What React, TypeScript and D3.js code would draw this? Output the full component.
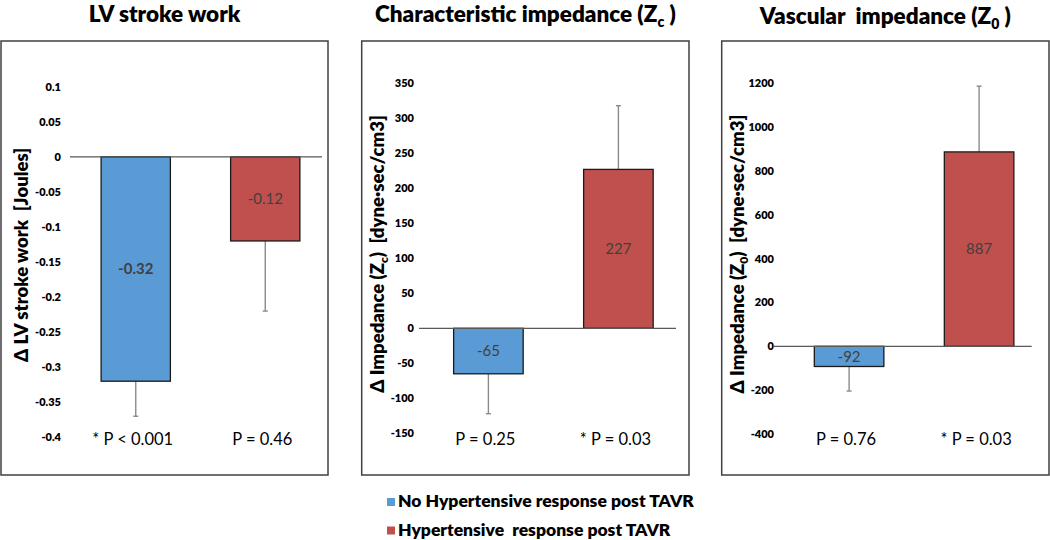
import React from "react";
import * as d3 from "d3";

// ---------- data ----------
const groups = ["No Hypertensive response post TAVR", "Hypertensive  response post TAVR"];
const groupColors = ["#5B9BD5", "#C0504D"];

const lvValues = [-0.32, -0.12];
const lvErrors = [0.05, 0.1];
const lvPLabels = ["* P < 0.001", "P = 0.46"];
const lvTicks = [0.1, 0.05, 0, -0.05, -0.1, -0.15, -0.2, -0.25, -0.3, -0.35, -0.4];
const lvTickLabels = ["0.1", "0.05", "0", "-0.05", "-0.1", "-0.15", "-0.2", "-0.25", "-0.3", "-0.35", "-0.4"];
const lvValueLabels = ["-0.32", "-0.12"];

const zcValues = [-65, 227];
const zcErrors = [57, 91];
const zcPLabels = ["P = 0.25", "* P = 0.03"];
const zcTicks = [350, 300, 250, 200, 150, 100, 50, 0, -50, -100, -150];
const zcValueLabels = ["-65", "227"];

const z0Values = [-92, 887];
const z0Errors = [112, 300];
const z0PLabels = ["P = 0.76", "* P = 0.03"];
const z0Ticks = [1200, 1000, 800, 600, 400, 200, 0, -200, -400];
const z0ValueLabels = ["-92", "887"];

// ---------- layout ----------
const FONT = "Lato, 'Open Sans', sans-serif";
const HEAVY = 800;

type Panel = {
  title: [string, string, string];
  yTitle: [string, string, string];
  values: number[];
  errors: number[];
  pLabels: string[];
  ticks: number[];
  tickLabels: string[];
  valueLabels: string[];
  boldIdx: number[];
  domain: [number, number];
  yRange: [number, number];
  box: [number, number];
  zeroX: [number, number];
  band: [number, number];
  tickX: number;
  yTitleX: number;
  yTitleY: number;
  titleY: number;
};

const panels: Panel[] = [
  {
    title: ["LV stroke work", "", ""],
    yTitle: ["Δ LV stroke work  [Joules]", "", ""],
    values: lvValues,
    errors: lvErrors,
    pLabels: lvPLabels,
    ticks: lvTicks,
    tickLabels: lvTickLabels,
    valueLabels: lvValueLabels,
    boldIdx: [0],
    domain: [-0.4, 0.1],
    yRange: [437.3, 86.7],
    box: [1, 328],
    zeroX: [70, 322],
    band: [71, 330],
    tickX: 61,
    yTitleX: 28,
    yTitleY: 255,
    titleY: 22,
  },
  {
    title: ["Characteristic impedance (Z", "c", " )"],
    yTitle: ["Δ Impedance (Z", "c", ")  [dyne·sec/cm3]"],
    values: zcValues,
    errors: zcErrors,
    pLabels: zcPLabels,
    ticks: zcTicks,
    tickLabels: zcTicks.map(String),
    valueLabels: zcValueLabels,
    boldIdx: [],
    domain: [-150, 350],
    yRange: [433.3, 83.3],
    box: [361.7, 689],
    zeroX: [419, 676],
    band: [423.4, 683.4],
    tickX: 414,
    yTitleX: 384,
    yTitleY: 254,
    titleY: 22,
  },
  {
    title: ["Vascular  impedance (Z", "0", " )"],
    yTitle: ["Δ Impedance (Z", "0", ")  [dyne·sec/cm3]"],
    values: z0Values,
    errors: z0Errors,
    pLabels: z0PLabels,
    ticks: z0Ticks,
    tickLabels: z0Ticks.map(String),
    valueLabels: z0ValueLabels,
    boldIdx: [],
    domain: [-400, 1200],
    yRange: [434, 83.3],
    box: [721.7, 1049],
    zeroX: [774, 1031.7],
    band: [784.1, 1044.1],
    tickX: 774,
    yTitleX: 744,
    yTitleY: 254,
    titleY: 24,
  },
];

const BOX_TOP = 41;
const BOX_BOTTOM = 475;
const pre = { whiteSpace: "pre" as const };

function PanelView({ p }: { p: Panel }) {
  const y = d3.scaleLinear().domain(p.domain).range(p.yRange);
  const x = d3
    .scaleBand<number>()
    .domain(p.values.map((_, i) => i))
    .range(p.band)
    .paddingInner(0.465)
    .paddingOuter(0.2325);
  const bw = x.bandwidth();
  const y0 = y(0);
  const cx = (p.box[0] + p.box[1]) / 2;
  return (
    <g>
      <text
        x={cx}
        y={p.titleY}
        textAnchor="middle"
        fontFamily={FONT}
        fontWeight={HEAVY}
        fontSize={22.5}
        fill="#000"
        style={pre}
      >
        {p.title[0]}
        {p.title[1] && (
          <tspan fontSize={14} dy={5}>
            {p.title[1]}
          </tspan>
        )}
        {p.title[2] && <tspan dy={-5}>{p.title[2]}</tspan>}
      </text>
      <rect
        x={p.box[0]}
        y={BOX_TOP}
        width={p.box[1] - p.box[0]}
        height={BOX_BOTTOM - BOX_TOP}
        fill="#fff"
        stroke="#404040"
        strokeWidth={1.5}
      />
      {p.ticks.map((t, i) => (
        <text
          key={i}
          x={p.tickX}
          y={y(t)}
          dy="0.35em"
          textAnchor="end"
          fontFamily={FONT}
          fontWeight={HEAVY}
          fontSize={11}
          fill="#000"
        >
          {p.tickLabels[i]}
        </text>
      ))}
      <text
        transform={`translate(${p.yTitleX},${p.yTitleY}) rotate(-90)`}
        textAnchor="middle"
        fontFamily={FONT}
        fontWeight={HEAVY}
        fontSize={18.5}
        fill="#000"
        style={pre}
      >
        {p.yTitle[0]}
        {p.yTitle[1] && (
          <tspan fontSize={12} dy={4}>
            {p.yTitle[1]}
          </tspan>
        )}
        {p.yTitle[2] && <tspan dy={-4}>{p.yTitle[2]}</tspan>}
      </text>
      {p.values.map((v, i) => {
        const bx = x(i) as number;
        const top = Math.min(y(v), y0);
        const h = Math.abs(y(v) - y0);
        const errEnd = v < 0 ? v - p.errors[i] : v + p.errors[i];
        const mx = bx + bw / 2;
        return (
          <g key={i}>
            <line x1={mx} x2={mx} y1={y(v)} y2={y(errEnd)} stroke="#8a8a8a" strokeWidth={1.4} />
            <line x1={mx - 2.5} x2={mx + 2.5} y1={y(errEnd)} y2={y(errEnd)} stroke="#8a8a8a" strokeWidth={1.4} />
            <rect x={bx} y={top} width={bw} height={h} fill={groupColors[i]} stroke="#1a1a1a" strokeWidth={1.3} />
            <text
              x={mx}
              y={top + h / 2}
              dy="0.35em"
              textAnchor="middle"
              fontFamily={FONT}
              fontWeight={p.boldIdx.includes(i) ? "bold" : "normal"}
              fontSize={15}
              fill="#404040"
            >
              {p.valueLabels[i]}
            </text>
            <text
              x={mx - 3}
              y={445}
              textAnchor="middle"
              fontFamily={FONT}
              fontSize={16.5}
              fill="#000"
            >
              {p.pLabels[i]}
            </text>
          </g>
        );
      })}
      <line x1={p.zeroX[0]} x2={p.zeroX[1]} y1={y0} y2={y0} stroke="#595959" strokeWidth={1.3} />
    </g>
  );
}

export default function App() {
  return (
    <div style={{ position: "absolute", left: 0, top: 0 }}>
      <svg width={1050} height={540} style={{ display: "block", background: "#fff" }}>
        <rect width={1050} height={540} fill="#fff" />
        {panels.map((p, i) => (
          <PanelView key={i} p={p} />
        ))}
        {groups.map((g, i) => (
          <g key={g}>
            <rect x={387} y={498 + i * 28.5} width={8} height={8} fill={groupColors[i]} />
            <text
              x={398}
              y={507 + i * 28.5}
              fontFamily={FONT}
              fontWeight={HEAVY}
              fontSize={17.5}
              fill="#000"
              style={pre}
            >
              {g}
            </text>
          </g>
        ))}
      </svg>
    </div>
  );
}
